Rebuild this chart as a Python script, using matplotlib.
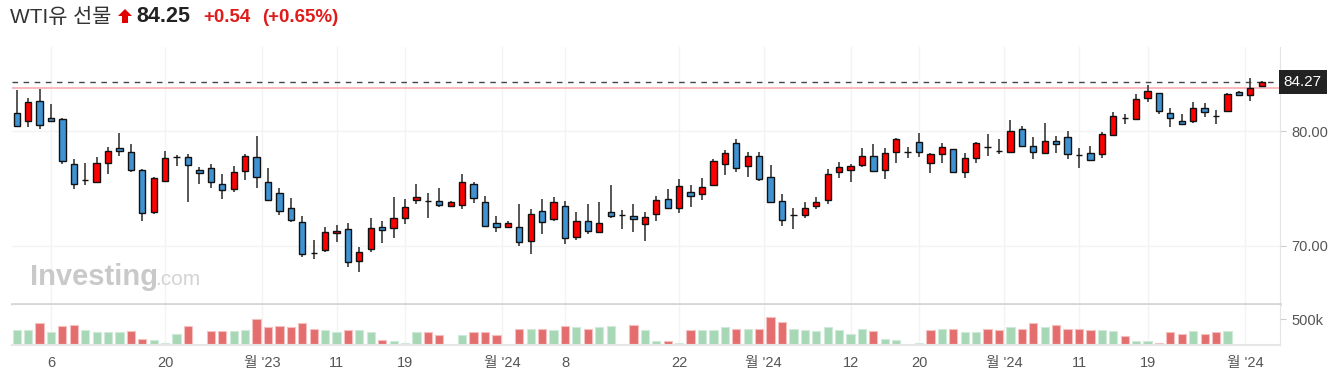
import numpy as np
import matplotlib
matplotlib.use('Agg')
import matplotlib.pyplot as plt
from matplotlib.patches import Polygon

plt.rcParams['font.family'] = ['Liberation Sans', 'Noto Sans CJK KR', 'DejaVu Sans']

# daily OHLC
opens = [81.54, 80.87, 82.64, 81.10, 81.01, 77.09, 75.72, 75.52, 77.18, 78.48,
         78.14, 76.62, 72.90, 75.64, 77.70, 77.73, 76.60, 76.74, 75.35, 74.94,
         76.51, 77.73, 75.52, 74.56, 73.25, 72.09, 69.33, 69.62, 71.07, 71.42,
         68.66, 69.71, 71.62, 71.57, 72.44, 74.01, 73.89, 73.92, 73.43, 73.54,
         75.35, 73.80, 71.94, 71.60, 71.62, 70.40, 73.05, 72.32, 73.46, 70.78,
         72.18, 71.22, 72.93, 72.67, 72.58, 71.92, 72.73, 74.04, 73.31, 74.68,
         74.53, 75.29, 77.15, 78.92, 76.94, 77.85, 75.98, 73.92, 72.67, 72.67,
         73.46, 73.98, 76.39, 76.62, 77.03, 77.85, 76.60, 78.14, 78.17, 79.01,
         77.18, 78.02, 78.40, 76.39, 77.61, 78.63, 78.25, 78.19, 80.14, 78.72,
         78.11, 79.15, 79.47, 77.87, 78.05, 78.02, 79.65, 81.10, 81.07, 82.85,
         83.28, 81.54, 80.87, 80.84, 81.97, 81.33, 81.74, 83.40, 83.14, 83.89]
closes = [80.43, 82.55, 80.52, 80.87, 77.38, 75.35, 75.72, 77.18, 78.25, 78.25,
          76.60, 72.82, 75.87, 77.61, 77.70, 77.03, 76.30, 75.52, 74.85, 76.39,
          77.82, 75.96, 73.98, 73.02, 72.23, 69.27, 69.33, 71.22, 71.30, 68.54,
          69.42, 71.51, 71.36, 72.38, 73.37, 74.24, 73.89, 73.54, 73.80, 75.58,
          74.12, 71.71, 71.60, 71.94, 70.29, 72.73, 72.09, 73.80, 70.69, 72.18,
          71.28, 71.94, 72.58, 72.67, 72.35, 72.50, 74.01, 73.31, 75.23, 74.30,
          75.11, 77.41, 78.05, 76.74, 77.85, 75.84, 73.78, 72.26, 72.67, 73.25,
          73.80, 76.22, 76.86, 76.97, 77.85, 76.54, 78.05, 79.27, 78.17, 78.14,
          77.96, 78.60, 76.45, 77.61, 78.92, 78.63, 78.25, 80.00, 78.69, 78.14,
          79.12, 78.89, 77.99, 77.87, 77.47, 79.71, 81.33, 81.10, 82.76, 83.51,
          81.74, 81.10, 80.64, 81.97, 81.62, 81.33, 83.19, 83.16, 83.72, 84.25]
highs = [83.57, 82.85, 83.66, 82.35, 81.16, 77.53, 77.18, 77.76, 78.63, 79.79,
         78.83, 76.65, 76.01, 78.28, 77.90, 77.96, 76.89, 77.09, 76.22, 76.97,
         78.02, 79.59, 76.74, 75.00, 74.12, 72.61, 70.46, 71.65, 71.80, 71.94,
         69.85, 72.38, 72.18, 74.27, 74.04, 75.35, 74.56, 75.00, 73.89, 76.25,
         75.52, 74.36, 72.61, 72.18, 73.60, 73.17, 74.07, 74.27, 73.89, 72.96,
         73.60, 73.83, 75.29, 73.11, 73.60, 72.96, 74.36, 74.94, 75.81, 75.29,
         75.93, 77.55, 78.31, 79.30, 78.19, 78.19, 77.03, 74.50, 73.25, 73.83,
         74.27, 76.68, 77.32, 77.12, 78.54, 78.86, 78.54, 79.42, 78.63, 79.79,
         78.05, 78.92, 78.43, 78.05, 79.07, 79.71, 79.30, 80.96, 80.46, 79.50,
         80.67, 79.59, 80.03, 78.48, 78.72, 79.94, 81.68, 81.45, 83.22, 84.01,
         83.28, 81.97, 81.45, 82.55, 82.41, 81.83, 83.28, 83.48, 84.65, 84.36]
lows = [80.40, 80.32, 80.17, 80.75, 77.15, 74.94, 75.29, 75.43, 76.25, 77.85,
        76.39, 72.18, 72.76, 75.58, 76.97, 73.83, 75.37, 75.05, 74.07, 74.71,
        75.70, 75.05, 73.89, 72.67, 72.03, 69.04, 68.83, 69.47, 70.35, 68.17,
        67.67, 69.47, 70.26, 70.69, 71.86, 73.63, 72.44, 73.40, 73.40, 73.19,
        73.75, 71.65, 71.22, 71.51, 70.00, 69.27, 71.01, 72.18, 70.14, 70.49,
        71.01, 71.16, 72.38, 71.45, 71.22, 70.43, 72.18, 73.19, 72.87, 73.40,
        73.98, 75.20, 76.16, 76.45, 75.96, 75.64, 73.75, 71.74, 71.42, 72.44,
        73.19, 73.60, 75.93, 75.58, 76.89, 76.45, 75.81, 77.23, 77.67, 77.76,
        76.36, 77.23, 76.39, 75.93, 77.23, 77.85, 77.99, 78.14, 78.63, 77.55,
        77.99, 78.11, 77.55, 76.80, 77.38, 77.67, 79.59, 80.61, 81.04, 82.50,
        81.48, 80.37, 80.52, 80.67, 81.25, 80.58, 81.62, 83.14, 82.64, 83.87]

# volume in thousands, None = no bar
volumes = [287, 287, 420, 240, 367, 387, 287, 240, 240, 240,
           267, 107, 87, 20, 213, 367, None, 267, 267, 267,
           287, 513, 340, 367, 340, 420, 313, 287, 240, 287,
           287, 240, 87, 67, 20, 240, 240, 187, None, 187,
           240, 240, 187, None, 313, 313, 313, 287, 367, 340,
           313, 340, 367, None, 387, 287, 67, 67, 20, 287,
           287, 287, 340, 313, 313, 307, 540, 440, 307, 287,
           267, 340, 287, 213, 307, 267, 107, 87, None, 20,
           287, 307, 313, 240, 240, 313, 287, 340, 313, 420,
           340, 387, 313, 313, 287, 287, 267, 167, 67, 67,
           20, 240, 213, 267, 213, 240, 267, None, None, None]
vol_colors = ('ggrgrrgggg' 'rrgggr-rrg' 'grrrrrrggr' 'ggrgggrr-g' 'rrr-rgrgrg'
              'rgg-rggrgr' 'gggrgrrrgg' 'gggggrgg-g' 'rgrggrrgrr' 'grrrrggrgg'
              'rrrgrrg---')

tick_pos = [3, 13, 21.5, 28, 34, 42.5, 48, 58, 65.4, 73, 79, 86.45, 93, 99, 107.55]
tick_labels = ['6', '20', "월 '23", '11', '19', "월 '24", '8', '22', "월 '24",
               '12', '20', "월 '24", '11', '19', "월 '24"]

last_price = 84.27
prev_close = 83.71

W, H = 1337, 385
fig = plt.figure(figsize=(W / 100, H / 100), dpi=100)
fig.patch.set_facecolor('white')


def px(x, y):
    return x / W, 1 - y / H


L, R = 12, 1280
ax = fig.add_axes([L / W, 1 - 304 / H, (R - L) / W, (304 - 47) / H])
axv = fig.add_axes([L / W, 1 - 345 / H, (R - L) / W, (345 - 305) / H], sharex=ax)

idx = np.arange(len(opens))
o = np.array(opens)
c = np.array(closes)
hi = np.array(highs)
lo = np.array(lows)

body_col = ['#ff0000' if cc > oo else ('#3f93d3' if cc < oo else '#333333') for oo, cc in zip(o, c)]
ax.vlines(idx, lo, hi, color='#3a3a3a', lw=1.2, zorder=2)
ax.bar(idx, np.abs(c - o), bottom=np.minimum(o, c), width=0.55, color=body_col,
       edgecolor='#111111', linewidth=1.0, zorder=3)

ax.axhline(last_price, color='#444444', lw=1.0, ls=(0, (4, 4)), zorder=1)
ax.axhline(prev_close, color='#f8b4ba', lw=1.3, zorder=1)

for t in tick_pos:
    ax.axvline(t, color='#f3f3f3', lw=1, zorder=0)
    axv.axvline(t, color='#f3f3f3', lw=1, zorder=0)
for yv in [70, 80]:
    ax.axhline(yv, color='#f3f3f3', lw=1, zorder=0)

ax.set_xlim(-0.41, 110.6)
ax.set_ylim(64.91, 87.33)
ax.yaxis.tick_right()
ax.set_yticks([70, 80])
ax.set_yticklabels(['70.00', '80.00'])
ax.tick_params(axis='y', length=4, color='#cccccc', labelcolor='#555555', labelsize=10.5, pad=4)
ax.tick_params(axis='x', bottom=False, labelbottom=False)
for s in ['top', 'left']:
    ax.spines[s].set_visible(False)
ax.spines['right'].set_color('#e4e4e4')
ax.spines['bottom'].set_color('#d6d6d6')
ax.spines['bottom'].set_linewidth(2)

ax.text(1.003, last_price, '84.27', transform=ax.get_yaxis_transform(), ha='left', va='center',
        color='white', fontsize=11,
        bbox=dict(boxstyle='square,pad=0.32', fc='#222222', ec='none'))

# volume
vx = [i for i, v in enumerate(volumes) if v is not None]
vv = [volumes[i] for i in vx]
vc = ['#e46d6d' if vol_colors[i] == 'r' else '#a6d8b6' for i in vx]
ve = ['#f4c0c0' if vol_colors[i] == 'r' else '#cfead8' for i in vx]
axv.bar(vx, vv, width=0.72, color=vc, edgecolor=ve, linewidth=0.8, zorder=2)
axv.set_ylim(-14, 786)
axv.yaxis.tick_right()
axv.set_yticks([500])
axv.set_yticklabels(['500k'])
axv.tick_params(axis='y', length=4, color='#cccccc', labelcolor='#555555', labelsize=10.5, pad=4)
axv.set_xticks(tick_pos)
axv.set_xticklabels(tick_labels)
axv.tick_params(axis='x', length=0, labelcolor='#555555', labelsize=10.5, pad=8)
for s in ['top', 'left']:
    axv.spines[s].set_visible(False)
axv.spines['right'].set_color('#e4e4e4')
axv.spines['bottom'].set_color('#e6e6e6')
axv.spines['bottom'].set_linewidth(1.5)

# header
fig.text(*px(10, 17), 'WTI유 선물', ha='left', va='center', fontsize=15, color='#333333')
arrow = [(125, 9), (132, 16), (128, 16), (128, 23), (122, 23), (122, 16), (118, 16)]
fig.patches.append(Polygon([px(x, y) for x, y in arrow], closed=True, transform=fig.transFigure,
                           fc='#e00000', ec='none'))
fig.text(*px(136, 17), '84.25', ha='left', va='center', fontsize=15.5, fontweight='bold', color='#222222')
fig.text(*px(203, 17), '+0.54', ha='left', va='center', fontsize=13.5, fontweight='bold', color='#e01b1b')
fig.text(*px(262, 17), '(+0.65%)', ha='left', va='center', fontsize=13.5, fontweight='bold', color='#e01b1b')

# watermark
fig.text(*px(30, 285), 'Investing', ha='left', va='baseline', fontsize=21, fontweight='bold', color='#c9c9c9')
fig.text(*px(155, 285), '.com', ha='left', va='baseline', fontsize=15, color='#d4d4d4')

fig.savefig('out.png', dpi=100, facecolor='white')
